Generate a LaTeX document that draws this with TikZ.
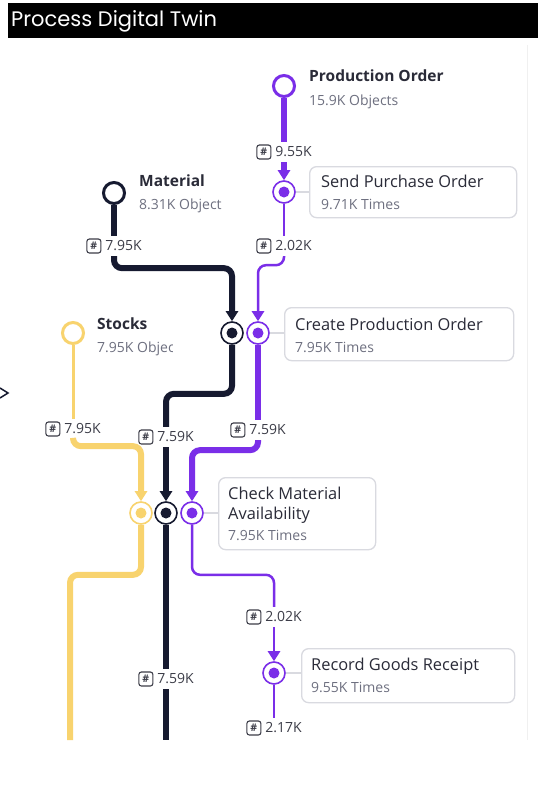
\documentclass[tikz,border=0pt]{standalone}
\usepackage{fontspec}
\setmainfont{Open Sans}
\newfontfamily\titlefont{Poppins}
\usetikzlibrary{arrows.meta}
\definecolor{dk}{HTML}{161A30}
\definecolor{pu}{HTML}{7A2EE8}
\definecolor{ye}{HTML}{F8D36E}
\definecolor{bx}{HTML}{D9DAE0}
\definecolor{sub}{HTML}{6E7080}
\definecolor{txt}{HTML}{2A2B38}
\definecolor{lab}{HTML}{3C3D48}
\tikzset{
  obj/.style={circle, draw=#1, line width=3pt, fill=white, minimum size=21pt, inner sep=0pt},
  act/.style={circle, draw=#1, line width=1.6pt, fill=white, minimum size=22pt, inner sep=0pt,
    path picture={\fill[#1] (path picture bounding box.center) circle (5.5pt);}},
  boxn/.style={draw=bx, line width=1.3pt, rounded corners=7pt, anchor=north west, inner sep=0pt},
  lbl/.style={inner sep=1pt, outer sep=4pt, font=\fontsize{14}{14}\selectfont, text=lab},
  hashb/.style={draw=lab, line width=1.1pt, rounded corners=2.5pt, inner sep=0pt, minimum size=14pt,
    text=lab, font=\fontsize{10.5}{10.5}\selectfont\bfseries, anchor=west},
  ttxt/.style={anchor=base west, inner sep=0pt, font=\fontsize{15.5}{15.5}\selectfont\bfseries, text=txt},
  btxt/.style={anchor=base west, inner sep=0pt, font=\fontsize{16.4}{16.4}\selectfont, text=txt},
  stxt/.style={anchor=base west, inner sep=0pt, font=\fontsize{14}{14}\selectfont, text=sub},
  thk/.style={line width=6pt},
  thn/.style={line width=2.5pt},
  tipa/.style={-{Triangle[width=12pt,length=10pt]}},
  rc/.style={rounded corners=8pt},
  conn/.style={draw=bx, line width=1.2pt}
}
\begin{document}
\begin{tikzpicture}[x=1pt,y=-1pt]
\useasboundingbox (0,0) rectangle (538,785);
\fill[white] (0,0) rectangle (538,785);
% title bar
\fill[black] (8,3) rectangle (538,38);
\node[anchor=base west, inner sep=0pt, font=\titlefont\fontsize{21}{21}\selectfont, text=white] (ttl) at (11,26) {Process Digital Twin};
% faint right rule and left chevron
\draw[black!6, line width=0.8pt] (527,45) -- (527,740);
\draw[dk, line width=1.5pt] (0,388) -- (8,393) -- (0,398);

% object circles
\node[obj=pu] (po) at (284,86) {};
\node[obj=dk] (mat) at (114,193) {};
\node[obj=ye] (stk) at (73,333) {};
% activity nodes
\node[act=pu] (spo) at (284,192) {};
\node[act=dk] (cpoD) at (232,333) {};
\node[act=pu] (cpoP) at (258,333) {};
\node[act=ye] (cmaY) at (141,513) {};
\node[act=dk] (cmaD) at (166,513) {};
\node[act=pu] (cmaP) at (192,513) {};
\node[act=pu] (rgr) at (274,673) {};

% object labels
\node[ttxt] (tpo) at (309,81.5) {Production Order};
\node[stxt] (spo2) at (309,105) {15.9K Objects};
\node[ttxt] (tmat) at (139,186.5) {Material};
\node[stxt] (smat) at (139,209.5) {8.31K Object};
\node[ttxt] (tstk) at (97,329.5) {Stocks};
\begin{scope}
\clip (90,336) rectangle (172,360);
\node[stxt] (sstk) at (97,352) {7.95K Objects};
\end{scope}

% activity boxes
\node[boxn, minimum width=207pt, minimum height=51pt] (bspo) at (309,166) {};
\node[btxt] (tspo) at (321,187) {Send Purchase Order};
\node[stxt] (sspo) at (321,209) {9.71K Times};
\node[boxn, minimum width=229pt, minimum height=53pt] (bcpo) at (284,307) {};
\node[btxt] (tcpo) at (295,330) {Create Production Order};
\node[stxt] (scpo) at (295,352) {7.95K Times};
\node[boxn, minimum width=157pt, minimum height=72pt] (bcma) at (218,477) {};
\node[btxt] (tcma1) at (228,499) {Check Material};
\node[btxt] (tcma2) at (228,519) {Availability};
\node[stxt] (scma) at (228,540) {7.95K Times};
\node[boxn, minimum width=213pt, minimum height=54pt] (brgr) at (301,648) {};
\node[btxt] (trgr) at (311,670) {Record Goods Receipt};
\node[stxt] (srgr) at (311,692.5) {9.55K Times};

% box connectors
\draw[conn] (spo) -- (bspo.west |- spo);
\draw[conn] (cpoP) -- (bcpo.west |- cpoP);
\draw[conn] (cmaP) -- (bcma.west |- cmaP);
\draw[conn] (rgr) -- (brgr.west |- rgr);

% count labels
\node[lbl] (l1) at (284,152) {\hspace{19pt}9.55K};
\node[lbl] (l2) at (284,246) {\hspace{19pt}2.02K};
\node[lbl] (l3) at (114,246) {\hspace{19pt}7.95K};
\node[lbl] (l4) at (73,429) {\hspace{19pt}7.95K};
\node[lbl] (l5) at (166,437) {\hspace{19pt}7.59K};
\node[lbl] (l6) at (258,430) {\hspace{19pt}7.59K};
\node[lbl] (l7) at (274,617) {\hspace{19pt}2.02K};
\node[lbl] (l8) at (166,679) {\hspace{19pt}7.59K};
\node[lbl] (l9) at (274,728) {\hspace{19pt}2.17K};
\foreach \n in {l1,l2,l3,l4,l5,l6,l7,l8,l9}
  \node[hashb] (h\n) at ([xshift=5pt]\n.west) {\#};

\coordinate (yend) at (70,740);
\coordinate (dend) at (166,740);

% production order flow
\draw[pu, thk] (po) -- (l1);
\draw[pu, thk, tipa] (l1) -- (spo);
\draw[pu, thn] (spo) -- (l2);
\draw[pu, thn, tipa, rc] (l2.south) -- ++(0,9) -| (cpoP);
\draw[pu, thk] (cpoP) -- (l6);
\draw[pu, thk, tipa, rc] (l6.south) -- ++(0,10) -| (cmaP);
\draw[pu, thn, rc] (cmaP.south) -- ++(0,50) -| (l7.north);
\draw[pu, thn, tipa] (l7) -- (rgr);
\draw[pu, thn] (rgr) -- (l9);
% material flow
\draw[dk, thk] (mat) -- (l3);
\draw[dk, thk, tipa, rc] (l3.south) -- ++(0,12) -| (cpoD);
\draw[dk, thk, rc] (cpoD.south) -- ++(0,49) -| (l5.north);
\draw[dk, thk, tipa] (l5) -- (cmaD);
\draw[dk, thk] (cmaD) -- (l8);
\draw[dk, thk] (l8) -- (dend);
% stocks flow
\draw[ye, line width=3pt] (stk) -- (l4);
\draw[ye, thk, tipa, rc] (l4.south) -- ++(0,7) -| (cmaY);
\draw[ye, thk, rc] (cmaY.south) -- ++(0,50) -| (yend);
\end{tikzpicture}
\end{document}
